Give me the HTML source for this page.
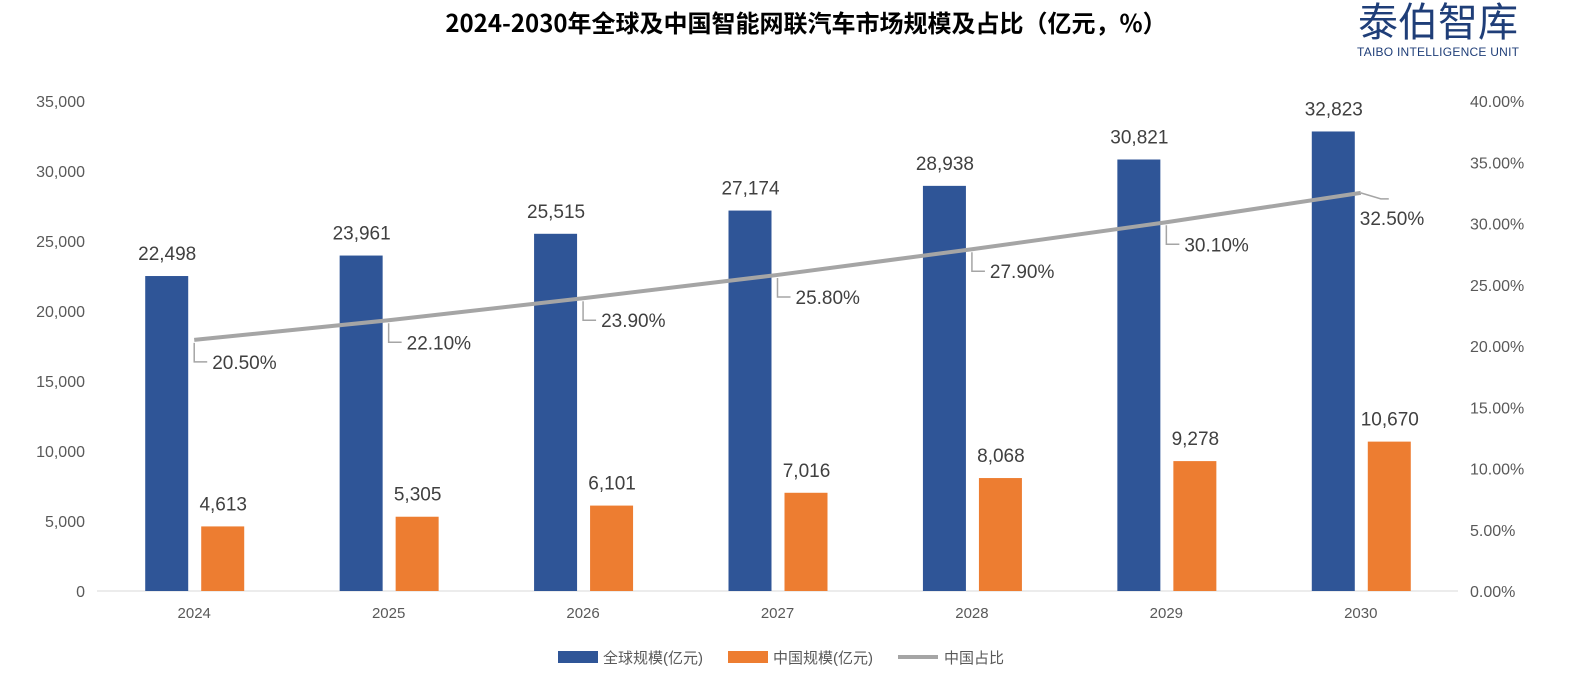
<!DOCTYPE html>
<html><head><meta charset="utf-8"><style>
body{margin:0;background:#fff;width:1581px;height:682px;overflow:hidden;font-family:"Liberation Sans","Noto Sans CJK SC",sans-serif}
</style></head><body>
<svg id="c" width="1581" height="682" xmlns="http://www.w3.org/2000/svg">
<text x="806" y="32" text-anchor="middle" font-size="24" font-weight="bold" fill="#000" font-family="Noto Sans CJK SC,Liberation Sans,sans-serif">2024-2030年全球及中国智能网联汽车市场规模及占比（亿元，%）</text>
<text x="1438" y="36" text-anchor="middle" font-size="40" fill="#1f3e78" font-family="Noto Sans CJK SC,sans-serif">泰伯智库</text>
<text x="1438" y="56" text-anchor="middle" font-size="12" fill="#1f3e78" textLength="162" font-family="Liberation Sans,sans-serif">TAIBO INTELLIGENCE UNIT</text>
<g id="g"></g>
</svg>
<script>
const categories=["2024","2025","2026","2027","2028","2029","2030"];
const globalVals=[22498,23961,25515,27174,28938,30821,32823];
const chinaVals=[4613,5305,6101,7016,8068,9278,10670];
const shareVals=[20.5,22.1,23.9,25.8,27.9,30.1,32.5];
const leftTicks=[0,5000,10000,15000,20000,25000,30000,35000];
const rightTicks=[0,5,10,15,20,25,30,35,40];
const X0=97,X1=1458,Y0=591,Y1=101;
const bw=(X1-X0)/categories.length;
const yL=v=>Y0-v/35000*(Y0-Y1);
const yR=v=>Y0-v/40*(Y0-Y1);
const cx=i=>X0+bw*(i+0.5);
const fmt=v=>v.toLocaleString('en-US');
const g=document.getElementById('g');
const NS='http://www.w3.org/2000/svg';
function mk(t,a,txt){const e=document.createElementNS(NS,t);for(const k in a)e.setAttribute(k,a[k]);if(txt!==undefined)e.textContent=txt;g.appendChild(e);return e;}
let e;
e=mk('line',{x1:X0,x2:X1,y1:Y0,y2:Y0,stroke:'#d9d9d9','stroke-width':1});


leftTicks.forEach(v=>{e=mk('text',{x:85,y:yL(v)+6,'text-anchor':'end','font-size':16,fill:'#595959'},fmt(v));

});
rightTicks.forEach(v=>{e=mk('text',{x:1470,y:yR(v)+6,'font-size':16,fill:'#595959'},v.toFixed(2)+'%');

});
categories.forEach((c,i)=>{
const x=cx(i);
e=mk('rect',{x:x-49,y:yL(globalVals[i]),width:43,height:Y0-yL(globalVals[i]),fill:'#2f5597'});


e=mk('rect',{x:x+7,y:yL(chinaVals[i]),width:43,height:Y0-yL(chinaVals[i]),fill:'#ed7d31'});


e=mk('text',{x:x-27,y:yL(globalVals[i])-16,'text-anchor':'middle','font-size':19,fill:'#404040'},fmt(globalVals[i]));


e=mk('text',{x:x+29,y:yL(chinaVals[i])-16,'text-anchor':'middle','font-size':19,fill:'#404040'},fmt(chinaVals[i]));


e=mk('text',{x:x,y:Y0+27,'text-anchor':'middle','font-size':15,fill:'#595959'},c);


});
const pts=shareVals.map((v,i)=>cx(i)+','+yR(v)).join(' ');
e=mk('polyline',{points:pts,fill:'none',stroke:'#a5a5a5','stroke-width':4});


shareVals.forEach((v,i)=>{
const x=cx(i),y=yR(v);
if(i<6){
e=mk('polyline',{points:`${x},${y+3} ${x},${y+22} ${x+13},${y+22}`,fill:'none',stroke:'#a5a5a5','stroke-width':1.5});


e=mk('text',{x:x+18,y:y+29,'font-size':19,fill:'#404040'},v.toFixed(2)+'%');
}else{
e=mk('polyline',{points:`${x},${y} ${x+20},${y+6} ${x+28},${y+6}`,fill:'none',stroke:'#a5a5a5','stroke-width':1.5});


e=mk('text',{x:x-1,y:y+32,'font-size':19,fill:'#404040'},v.toFixed(2)+'%');
}


});
e=mk('rect',{x:558,y:651,width:40,height:12,fill:'#2f5597'});


e=mk('text',{x:603,y:663,'font-size':15,fill:'#595959'},'全球规模(亿元)');


e=mk('rect',{x:728,y:651,width:40,height:12,fill:'#ed7d31'});


e=mk('text',{x:773,y:663,'font-size':15,fill:'#595959'},'中国规模(亿元)');


e=mk('line',{x1:898,x2:938,y1:657,y2:657,stroke:'#a5a5a5','stroke-width':4});


e=mk('text',{x:944,y:663,'font-size':15,fill:'#595959'},'中国占比');


</script>
</body></html>
